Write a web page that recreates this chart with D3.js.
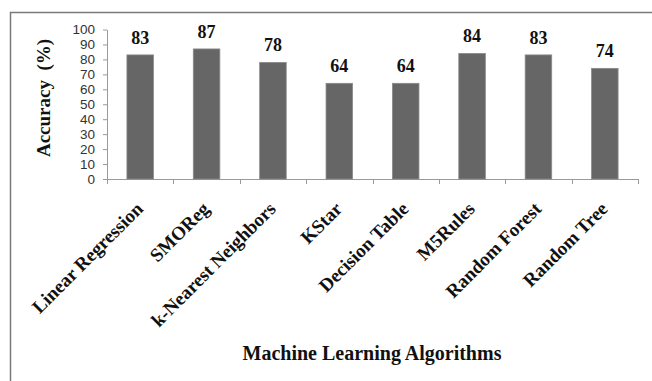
<!DOCTYPE html>
<html>
<head>
<meta charset="utf-8">
<script src="https://cdn.jsdelivr.net/npm/d3@7"></script>
<style>
  html, body { margin: 0; padding: 0; background: #fff; }
  svg { display: block; }
</style>
</head>
<body>
<svg id="chart" width="652" height="381"></svg>
<script>
// Accuracy of each regression algorithm
const algorithms = ["Linear Regression", "SMOReg", "k-Nearest Neighbors", "KStar",
                    "Decision Table", "M5Rules", "Random Forest", "Random Tree"];
const accuracy = [83, 87, 78, 64, 64, 84, 83, 74];
const yTicks = [0, 10, 20, 30, 40, 50, 60, 70, 80, 90, 100];

const svg = d3.select("#chart");
const W = 652, H = 381;
const plotL = 107, plotR = 638, plotT = 29.5, plotB = 179;
const serif = "Liberation Serif, Times New Roman, serif";

// outer frame (top and left edges visible)
svg.append("path")
  .attr("d", `M10.5,${H} L10.5,12.5 L${W},12.5`)
  .attr("fill", "none").attr("stroke", "#7a7a7a").attr("stroke-width", 1.5);

const x = d3.scaleBand().domain(algorithms).range([plotL, plotR]).paddingInner(0.6).paddingOuter(0.3);
const y = d3.scaleLinear().domain([0, 100]).range([plotB, plotT]);

// y axis
const yAxis = svg.append("g")
  .attr("transform", `translate(${plotL},0)`)
  .call(d3.axisLeft(y).tickValues(yTicks).tickSize(4).tickPadding(8).tickSizeOuter(0));
yAxis.select(".domain").attr("stroke", "#9a9a9a");
yAxis.selectAll(".tick line").attr("stroke", "#9a9a9a");
yAxis.selectAll(".tick text")
  .attr("font-family", "Liberation Sans, Arial, sans-serif")
  .attr("font-size", 13.5).attr("fill", "#333");

// x axis baseline with tick marks between categories
const xb = svg.append("g");
xb.append("line").attr("x1", plotL).attr("x2", plotR).attr("y1", plotB + 0.5).attr("y2", plotB + 0.5)
  .attr("stroke", "#9a9a9a");
const edge = i => i < algorithms.length ? x(algorithms[i]) - x.step() * x.paddingInner() / 2
                                        : plotR;
xb.selectAll("line.b").data(d3.range(algorithms.length + 1)).join("line")
  .attr("class", "b")
  .attr("x1", i => Math.round(edge(i)) + 0.5)
  .attr("x2", i => Math.round(edge(i)) + 0.5)
  .attr("y1", plotB).attr("y2", plotB + 5)
  .attr("stroke", "#9a9a9a");

// bars
svg.append("g").selectAll("rect").data(accuracy).join("rect")
  .attr("x", (d, i) => x(algorithms[i]))
  .attr("y", d => y(d))
  .attr("width", x.bandwidth())
  .attr("height", d => y(0) - y(d))
  .attr("fill", "#666666")
  .attr("stroke", "#8a8a8a").attr("stroke-width", 0.8);

const cx = i => x(algorithms[i]) + x.bandwidth() / 2;

// value labels
svg.append("g").selectAll("text").data(accuracy).join("text")
  .attr("x", (d, i) => cx(i))
  .attr("y", d => y(d) - 11)
  .attr("text-anchor", "middle")
  .attr("font-family", serif)
  .attr("font-weight", "bold").attr("font-size", 18).attr("fill", "#111")
  .text(d => d);

// category labels, rotated
svg.append("g").selectAll("text").data(algorithms).join("text")
  .attr("transform", (d, i) => `translate(${cx(i) + 4},${plotB + 31}) rotate(-45)`)
  .attr("text-anchor", "end")
  .attr("font-family", serif)
  .attr("font-weight", "bold").attr("font-size", 19).attr("fill", "#111")
  .text(d => d);

// axis titles
svg.append("text")
  .attr("x", 372).attr("y", 360)
  .attr("text-anchor", "middle")
  .attr("font-family", serif)
  .attr("font-weight", "bold").attr("font-size", 20).attr("fill", "#111")
  .text("Machine Learning Algorithms");

svg.append("text")
  .attr("transform", "translate(50,98) rotate(-90)")
  .attr("text-anchor", "middle")
  .attr("font-family", serif)
  .attr("font-weight", "bold").attr("font-size", 19).attr("fill", "#111")
  .attr("xml:space", "preserve")
  .text("Accuracy  (%)");
</script>
</body>
</html>
